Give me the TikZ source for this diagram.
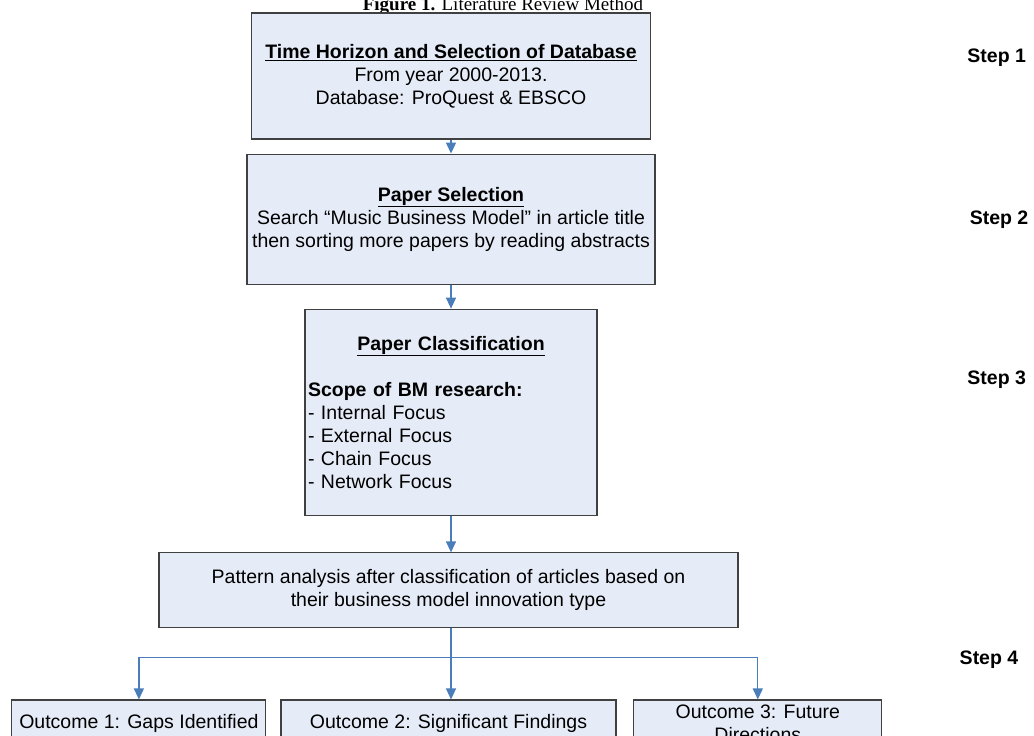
\documentclass[tikz,border=0pt]{standalone}
\usepackage{fontspec}
\setmainfont{Liberation Sans}
\newfontfamily\titlefont{Liberation Serif}
\usetikzlibrary{positioning, arrows.meta}

\definecolor{boxfill}{RGB}{230,236,247}
\definecolor{boxline}{RGB}{64,64,64}
\definecolor{arrblue}{RGB}{74,126,187}

\begin{document}
\begin{tikzpicture}[
    x=1pt, y=1pt,
    font=\fontsize{19.5}{23}\selectfont,
    box/.style={draw=boxline, line width=1.1pt, fill=boxfill, align=center,
                inner sep=2pt},
    arr/.style={-{Triangle[length=11pt, width=10pt]}, line width=1.3pt, draw=arrblue},
    link/.style={line width=1.3pt, draw=arrblue},
    steplabel/.style={font=\fontsize{19.5}{23}\selectfont\bfseries}
  ]
  \useasboundingbox (0,0) rectangle (1034,-736);

  \node[anchor=base, font=\titlefont\fontsize{19}{23}\selectfont] (title) at (503,-10)
    {\textbf{Figure 1.} Literature Review Method};

  \node[box, minimum width=399pt, minimum height=126pt] (dbsel) at (451,-76)
    {\underline{\textbf{Time Horizon and Selection of Database}}\\
     From year 2000-2013.\\Database: ProQuest \& EBSCO};
  \node[box, minimum width=408pt, minimum height=130pt, below=14pt of dbsel] (papersel)
    {\underline{\textbf{Paper Selection}}\\
     Search “Music Business Model” in article title\\
     then sorting more papers by reading abstracts};
  \node[box, minimum width=292pt, minimum height=206pt, text width=286pt, align=left,
        below=24pt of papersel] (paperclass)
    {\hfil\underline{\textbf{Paper Classification}}\hfil\\[23pt]
     \textbf{Scope of BM research:}\\- Internal Focus\\- External Focus\\
     - Chain Focus\\- Network Focus};
  \node[box, minimum width=579pt, minimum height=75pt, below=36.6pt of paperclass,
        xshift=-2.5pt] (pattern)
    {Pattern analysis after classification of articles based on\\
     their business model innovation type};

  \node[box, minimum width=335pt, minimum height=46pt, below=71pt of pattern.south,
        anchor=north] (out2) {Outcome 2: Significant Findings};
  \node[box, minimum width=254pt, minimum height=46pt, left=14pt of out2] (out1)
    {Outcome 1: Gaps Identified};
  \node[box, minimum width=248pt, minimum height=46pt, right=16.7pt of out2] (out3)
    {Outcome 3: Future\\Directions};

  \node[steplabel] (step1) at (996.7,-58) {Step 1};
  \node[steplabel] (step2) at (999,-220) {Step 2};
  \node[steplabel] (step3) at (996.7,-380) {Step 3};
  \node[steplabel] (step4) at (989,-660) {Step 4};

  \coordinate (split) at ([yshift=-29pt]paperclass.south |- pattern.south);

  \draw[arr] (dbsel) -- (papersel);
  \draw[arr] (papersel) -- (paperclass);
  \draw[arr] (paperclass.south) -- (paperclass.south |- pattern.north);
  \draw[link] (paperclass.south |- pattern.south) -- (split);
  \draw[arr] (split) -| (out1.north);
  \draw[arr] (split) -| (out3.north);
  \draw[arr] (split) -- (split |- out2.north);
\end{tikzpicture}
\end{document}
